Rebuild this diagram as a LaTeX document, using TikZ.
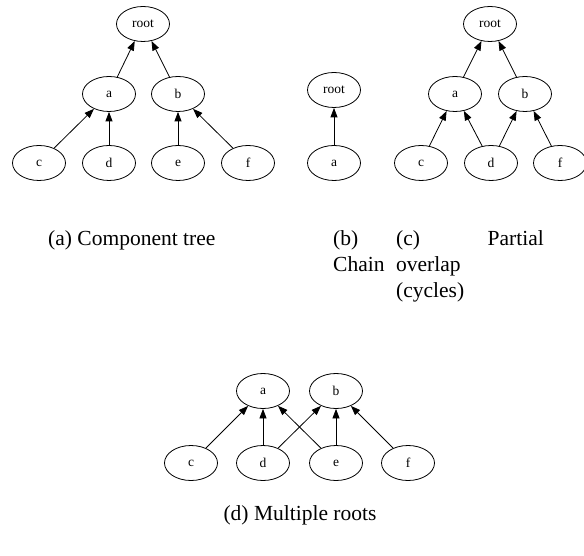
\documentclass[tikz,border=0pt]{standalone}
\usepackage{fontspec}
\setmainfont{Liberation Serif}
\usetikzlibrary{shapes.geometric,arrows.meta}
\begin{document}
\begin{tikzpicture}[x=1pt,y=-1pt,
  vertex/.style={draw,ellipse,line width=0.8pt,minimum width=53pt,minimum height=35pt,
    inner sep=0pt,font=\fontsize{13.5}{15}\selectfont},
  link/.style={line width=0.8pt,-{Triangle[length=9.5pt,width=7pt]}},
  capt/.style={font=\fontsize{21.5}{25}\selectfont,inner sep=0pt,anchor=base west}]
\useasboundingbox (0,0) rectangle (584,556);

% (a) component tree
\node[vertex] (aR) at (143,24) {root};
\node[vertex] (aA) at (109,94) {a};
\node[vertex] (aB) at (178,94) {b};
\node[vertex] (aC) at (39,163) {c};
\node[vertex] (aD) at (109,163) {d};
\node[vertex] (aE) at (178,163) {e};
\node[vertex] (aF) at (248,163) {f};
\draw[link] (aA) -- (aR);
\draw[link] (aB) -- (aR);
\draw[link] (aC) -- (aA);
\draw[link] (aD) -- (aA);
\draw[link] (aE) -- (aB);
\draw[link] (aF) -- (aB);

% (b) chain
\node[vertex] (bR) at (334,90) {root};
\node[vertex] (bA) at (334,163) {a};
\draw[link] (bA) -- (bR);

% (c) partial overlap
\node[vertex] (cR) at (490,24) {root};
\node[vertex] (cA) at (455,94) {a};
\node[vertex] (cB) at (525,94) {b};
\node[vertex] (cC) at (421,163) {c};
\node[vertex] (cD) at (491,163) {d};
\node[vertex] (cF) at (560,163) {f};
\draw[link] (cA) -- (cR);
\draw[link] (cB) -- (cR);
\draw[link] (cC) -- (cA);
\draw[link] (cD) -- (cA);
\draw[link] (cD) -- (cB);
\draw[link] (cF) -- (cB);

% (d) multiple roots
\node[vertex] (dA) at (263,391) {a};
\node[vertex] (dB) at (336,391) {b};
\node[vertex] (dC) at (191,463) {c};
\node[vertex] (dD) at (263,463) {d};
\node[vertex] (dE) at (336,463) {e};
\node[vertex] (dF) at (408,463) {f};
\draw[link] (dC) -- (dA);
\draw[link] (dD) -- (dA);
\draw[link] (dE) -- (dA);
\draw[link] (dD) -- (dB);
\draw[link] (dE) -- (dB);
\draw[link] (dF) -- (dB);

% captions
\node[capt] (capA) at (48,246) {(a) Component tree};
\node[capt] (capB1) at (333,246) {(b)};
\node[capt] (capB2) at (333,272) {Chain};
\node[capt] (capC1) at (396,246) {(c)};
\node[capt,anchor=base east] (capC2) at (544,246) {Partial};
\node[capt] (capC3) at (396,272) {overlap};
\node[capt] (capC4) at (396,298) {(cycles)};
\node[capt,anchor=base] (capD) at (300,520) {(d) Multiple roots};
\end{tikzpicture}
\end{document}
